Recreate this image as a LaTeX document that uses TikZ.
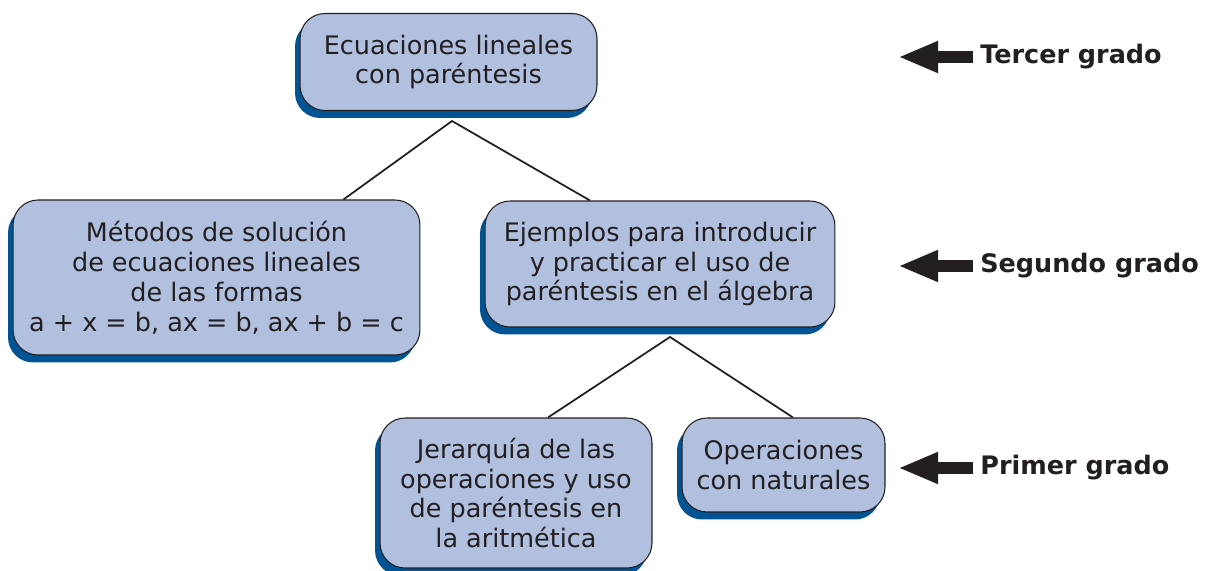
\documentclass[tikz,border=0pt]{standalone}
\usepackage{fontspec}
\setmainfont{DejaVu Sans}
\usepackage{xcolor}
\usetikzlibrary{arrows.meta, positioning, shadows}
\definecolor{boxblue}{RGB}{176,192,222}
\definecolor{shadowblue}{RGB}{0,84,147}
\definecolor{inkgray}{RGB}{35,31,32}

\begin{document}
\begin{tikzpicture}[
    x=0.02cm, y=-0.02cm,
    tema/.style={rectangle, rounded corners=0.5cm, draw=inkgray, line width=0.6pt,
                 fill=boxblue, align=center, text=inkgray, inner sep=0pt,
                 font=\fontsize{14.5}{17}\selectfont,
                 drop shadow={shadow xshift=-0.1cm, shadow yshift=-0.15cm,
                              fill=shadowblue, opacity=1}},
    rama/.style={draw=inkgray, line width=1pt},
    grado/.style={anchor=west, inner sep=0pt, text=inkgray,
                  font=\fontsize{14.5}{17}\selectfont\bfseries},
    gradoarr/.style={draw=inkgray, line width=0.24cm,
                     -{Triangle[length=0.8cm, width=0.58cm]}},
]
\useasboundingbox (0,0) rectangle (1205,571);

% tercer grado
\node[tema, minimum width=5.94cm, minimum height=1.94cm] (ecuaciones) at (448.5,62)
    {Ecuaciones lineales\\con paréntesis};

% segundo grado
\node[tema, minimum width=8.14cm, minimum height=3.1cm] (metodos) at (216.5,277.5)
    {Métodos de solución\\de ecuaciones lineales\\de las formas\\a + x = b, ax = b, ax + b = c};
\node[tema, minimum width=7cm, minimum height=2.52cm] (ejemplos) at (660,264)
    {Ejemplos para introducir\\y practicar el uso de\\paréntesis en el álgebra};

% primer grado
\node[tema, minimum width=5.44cm, minimum height=3cm] (jerarquia) at (516,493)
    {Jerarquía de las\\operaciones y uso\\de paréntesis en\\la aritmética};
\node[tema, minimum width=4.06cm, minimum height=1.88cm] (naturales) at (783.5,465)
    {Operaciones\\con naturales};

% ramas
\coordinate (r1) at (452,121);
\coordinate (r2) at (670,337);
\draw[rama] ([xshift=2.54cm]metodos.north) -- (r1) -- ([xshift=-1.4cm]ejemplos.north);
\draw[rama] ([xshift=0.64cm]jerarquia.north) -- (r2) -- ([xshift=0.19cm]naturales.north);

% grados
\node[grado] (tercer) at (980,57) {Tercer grado};
\node[grado] (segundo) at (980,266) {Segundo grado};
\node[grado] (primer) at (980,468) {Primer grado};

\draw[gradoarr] ([xshift=-0.14cm]tercer.west) -- ([xshift=-1.64cm]tercer.west);
\draw[gradoarr] ([xshift=-0.14cm]segundo.west) -- ([xshift=-1.64cm]segundo.west);
\draw[gradoarr] ([xshift=-0.14cm]primer.west) -- ([xshift=-1.64cm]primer.west);
\end{tikzpicture}
\end{document}
